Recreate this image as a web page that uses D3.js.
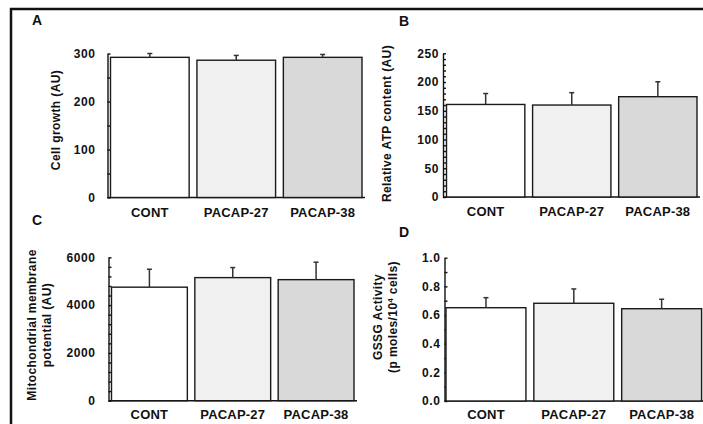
<!DOCTYPE html>
<html>
<head>
<meta charset="utf-8">
<script src="https://cdn.jsdelivr.net/npm/d3@7"></script>
<style>
  html, body { margin: 0; padding: 0; background: #fff; }
  svg { display: block; }
  text { font-family: "Liberation Sans", Arial, sans-serif; font-weight: bold; fill: #111; }
</style>
</head>
<body>
<div id="chart"></div>
<script>
// data
var categories = ["CONT", "PACAP-27", "PACAP-38"];
var barColors = ["#ffffff", "#f0f0f0", "#d9d9d9"];

var growthMean = [292, 286, 292];
var growthErr = [8, 10, 6];
var growthTicks = [0, 100, 200, 300];

var atpMean = [161, 160, 174.5];
var atpErr = [19, 21.5, 26];
var atpTicks = [0, 50, 100, 150, 200, 250];

var mmpMean = [4750, 5150, 5065];
var mmpErr = [750, 420, 730];
var mmpTicks = [0, 2000, 4000, 6000];

var gssgMean = [0.651, 0.682, 0.644];
var gssgErr = [0.07, 0.10, 0.066];
var gssgTicks = [0, 0.2, 0.4, 0.6, 0.8, 1.0];

var width = 703, height = 424;

var svg = d3.select("#chart").append("svg")
    .attr("width", width)
    .attr("height", height);

// outer frame (only left and top edges are visible)
svg.append("line").attr("x1", 11).attr("x2", 11).attr("y1", 8).attr("y2", height)
    .attr("stroke", "#111").attr("stroke-width", 2.5);
svg.append("line").attr("x1", 10).attr("x2", width).attr("y1", 9).attr("y2", 9)
    .attr("stroke", "#111").attr("stroke-width", 2.5);

function panel(cfg) {
    var g = svg.append("g").attr("class", "panel");

    var y = d3.scaleLinear().domain([0, cfg.max]).range([cfg.y0, cfg.y1]);
    var x = d3.scaleBand().domain(categories).range([cfg.xStart, cfg.xEnd])
        .paddingInner(0.09).paddingOuter(0);

    // minor ticks pointing inward
    var minor = d3.range(0, cfg.max + cfg.minorStep / 2, cfg.minorStep);
    g.append("g")
        .attr("transform", "translate(" + cfg.axisX + ",0)")
        .call(d3.axisRight(y).tickValues(minor).tickSize(3).tickSizeOuter(0).tickFormat(""))
        .call(function (s) {
            s.selectAll("line, path").attr("stroke", "#111").attr("stroke-width", 1.4);
        });

    // tick labels
    g.append("g")
        .attr("transform", "translate(" + cfg.axisX + ",0)")
        .call(d3.axisLeft(y).tickValues(cfg.ticks).tickSize(0).tickPadding(cfg.labelPad).tickFormat(cfg.fmt))
        .call(function (s) {
            s.select(".domain").remove();
            s.selectAll("text").attr("font-size", "12px").attr("letter-spacing", "0.6px")
                .attr("font-family", "Liberation Sans, Arial, sans-serif").attr("font-weight", "bold")
                .attr("fill", "#111");
        });

    // baseline
    g.append("line")
        .attr("x1", cfg.axisX).attr("x2", cfg.baseEnd)
        .attr("y1", cfg.y0).attr("y2", cfg.y0)
        .attr("stroke", "#111").attr("stroke-width", 1.4);

    var rows = cfg.mean.map(function (m, i) {
        return {cat: categories[i], mean: m, err: cfg.err[i], color: barColors[i]};
    });

    // bars
    g.selectAll("rect.bar")
        .data(rows)
        .enter()
        .append("rect")
        .attr("class", "bar")
        .attr("x", function (d) { return x(d.cat); })
        .attr("width", x.bandwidth())
        .attr("y", function (d) { return y(d.mean); })
        .attr("height", function (d) { return cfg.y0 - y(d.mean); })
        .attr("fill", function (d) { return d.color; })
        .attr("stroke", "#1a1a1a")
        .attr("stroke-width", 1.4);

    // error bars (upper only)
    var eb = g.selectAll("g.err").data(rows).enter().append("g").attr("class", "err");
    eb.append("line")
        .attr("x1", function (d) { return x(d.cat) + x.bandwidth() / 2; })
        .attr("x2", function (d) { return x(d.cat) + x.bandwidth() / 2; })
        .attr("y1", function (d) { return y(d.mean); })
        .attr("y2", function (d) { return y(d.mean + d.err); })
        .attr("stroke", "#333").attr("stroke-width", 1.5);
    eb.append("line")
        .attr("x1", function (d) { return x(d.cat) + x.bandwidth() / 2 - 2.5; })
        .attr("x2", function (d) { return x(d.cat) + x.bandwidth() / 2 + 2.5; })
        .attr("y1", function (d) { return y(d.mean + d.err); })
        .attr("y2", function (d) { return y(d.mean + d.err); })
        .attr("stroke", "#333").attr("stroke-width", 1.5);

    // category labels
    g.append("g")
        .attr("transform", "translate(0," + cfg.y0 + ")")
        .call(d3.axisBottom(x).tickSize(0).tickPadding(cfg.catPad))
        .call(function (s) {
            s.select(".domain").remove();
            s.selectAll("text").attr("font-size", "13px").attr("letter-spacing", "0.2px")
                .attr("font-family", "Liberation Sans, Arial, sans-serif").attr("font-weight", "bold")
                .attr("fill", "#111");
        });

    // y title (one or two lines)
    var t = g.append("text")
        .attr("transform", "translate(" + cfg.titleX + "," + cfg.titleY + ") rotate(-90)")
        .attr("text-anchor", "middle")
        .attr("font-size", "12px")
        .attr("letter-spacing", "0.4px");
    cfg.title.forEach(function (line, i) {
        var ts = t.append("tspan").attr("x", 0).attr("y", i * 14.5);
        if (typeof line === "string") {
            ts.text(line);
        } else {
            ts.append("tspan").text(line.pre);
            ts.append("tspan").attr("font-size", "7.5px").attr("dy", -4).text(line.sup);
            ts.append("tspan").attr("dy", 4).text(line.post);
        }
    });

    // panel letter
    g.append("text")
        .attr("x", cfg.letterX).attr("y", cfg.letterY)
        .attr("font-size", "14px")
        .text(cfg.letter);
}

panel({
    letter: "A", letterX: 32, letterY: 25,
    mean: growthMean, err: growthErr, ticks: growthTicks, max: 300, minorStep: 50,
    fmt: d3.format("d"),
    axisX: 107.5, y0: 197.5, y1: 53.5, xStart: 110.5, xEnd: 362, baseEnd: 365,
    labelPad: 12, catPad: 10,
    title: ["Cell growth (AU)"], titleX: 60, titleY: 120
});

panel({
    letter: "B", letterX: 399, letterY: 26,
    mean: atpMean, err: atpErr, ticks: atpTicks, max: 250, minorStep: 10,
    fmt: d3.format("d"),
    axisX: 443, y0: 197, y1: 53.3, xStart: 446.5, xEnd: 697, baseEnd: 700,
    labelPad: 4, catPad: 10,
    title: ["Relative ATP content (AU)"], titleX: 391, titleY: 123.5
});

panel({
    letter: "C", letterX: 32, letterY: 225,
    mean: mmpMean, err: mmpErr, ticks: mmpTicks, max: 6000, minorStep: 400,
    fmt: d3.format("d"),
    axisX: 108.5, y0: 400.7, y1: 257.3, xStart: 111.5, xEnd: 354, baseEnd: 357,
    labelPad: 13, catPad: 9,
    title: ["Mitochondrial  membrane", "potential (AU)"], titleX: 36, titleY: 325
});

panel({
    letter: "D", letterX: 399, letterY: 237,
    mean: gssgMean, err: gssgErr, ticks: gssgTicks, max: 1.0, minorStep: 0.1,
    fmt: d3.format(".1f"),
    axisX: 444.5, y0: 401, y1: 257.7, xStart: 446, xEnd: 701.6, baseEnd: 703,
    labelPad: 4, catPad: 8.5,
    title: ["GSSG Activity", {pre: "(p moles/10", sup: "4", post: " cells)"}], titleX: 382, titleY: 317
});
</script>
</body>
</html>
